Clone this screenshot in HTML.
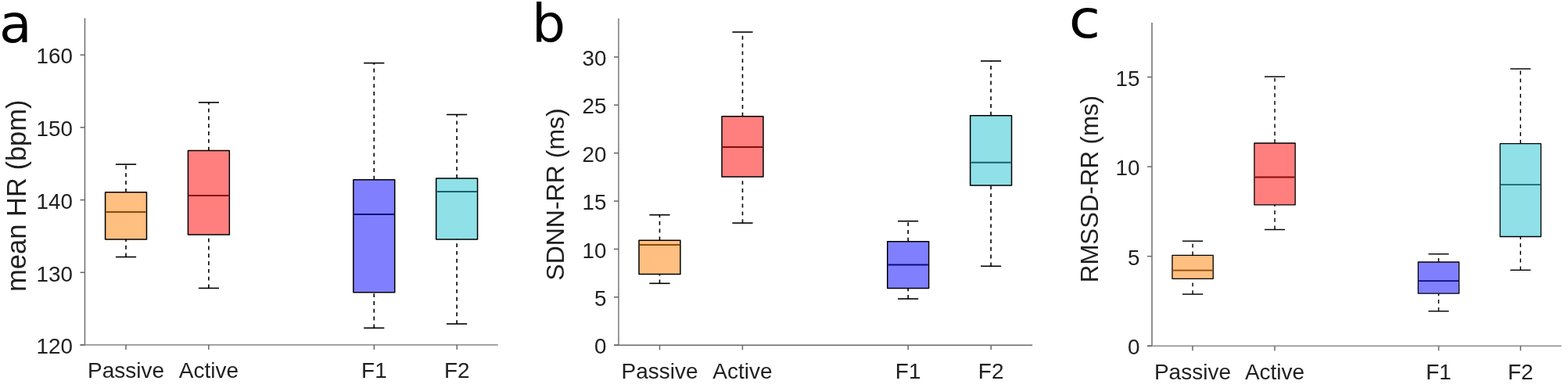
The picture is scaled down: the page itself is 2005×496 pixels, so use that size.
<!DOCTYPE html>
<html><head><meta charset="utf-8"><title>Box plots</title>
<style>
html,body{margin:0;padding:0;background:#fff;}
body{width:2005px;height:496px;overflow:hidden;}
svg{display:block;}
.tl{font-family:"Liberation Sans", Arial, sans-serif;font-size:27.8px;fill:#1f1f1f;}
.al{font-family:"Liberation Sans", Arial, sans-serif;fill:#1f1f1f;}
.xl{font-size:28px;}
.pl{font-family:"DejaVu Sans", Verdana, sans-serif;font-size:68px;fill:#000;}
</style></head><body>
<svg width="2005" height="496" viewBox="0 0 2005 496">
<rect width="2005" height="496" fill="#fff"/>
<g class="pa">
<line x1="161.05" y1="245.8" x2="161.05" y2="210.1" class="wh"/>
<line x1="161.05" y1="328.5" x2="161.05" y2="305.9" class="wh"/>
<line x1="147.95" y1="210.1" x2="174.15" y2="210.1" class="cap"/>
<line x1="147.95" y1="328.5" x2="174.15" y2="328.5" class="cap"/>
<rect x="134.6" y="245.8" width="52.9" height="60.1" fill="#FEBF80" class="bx"/>
<line x1="135.4" y1="270.9" x2="186.7" y2="270.9" stroke="#8B4A0A" class="md"/>
<line x1="266.9" y1="192.6" x2="266.9" y2="131" class="wh"/>
<line x1="266.9" y1="368.4" x2="266.9" y2="299.9" class="wh"/>
<line x1="253.8" y1="131" x2="280" y2="131" class="cap"/>
<line x1="253.8" y1="368.4" x2="280" y2="368.4" class="cap"/>
<rect x="240.45" y="192.6" width="52.9" height="107.3" fill="#FF7F7F" class="bx"/>
<line x1="241.25" y1="250" x2="292.55" y2="250" stroke="#8A0A0A" class="md"/>
<line x1="478.3" y1="229.7" x2="478.3" y2="80.6" class="wh"/>
<line x1="478.3" y1="419.3" x2="478.3" y2="373.7" class="wh"/>
<line x1="465.2" y1="80.6" x2="491.4" y2="80.6" class="cap"/>
<line x1="465.2" y1="419.3" x2="491.4" y2="419.3" class="cap"/>
<rect x="451.85" y="229.7" width="52.9" height="144" fill="#8080FF" class="bx"/>
<line x1="452.65" y1="273.9" x2="503.95" y2="273.9" stroke="#0A0A80" class="md"/>
<line x1="584.15" y1="227.9" x2="584.15" y2="146.5" class="wh"/>
<line x1="584.15" y1="414.05" x2="584.15" y2="306" class="wh"/>
<line x1="571.05" y1="146.5" x2="597.25" y2="146.5" class="cap"/>
<line x1="571.05" y1="414.05" x2="597.25" y2="414.05" class="cap"/>
<rect x="557.7" y="227.9" width="52.9" height="78.1" fill="#90E0E8" class="bx"/>
<line x1="558.5" y1="245" x2="609.8" y2="245" stroke="#17626C" class="md"/>
<line x1="108.5" y1="23.2" x2="108.5" y2="441" stroke="#686868" stroke-width="1.4"/>
<line x1="102.5" y1="440.9" x2="636.7" y2="440.9" stroke="#979797" stroke-width="1.8"/>
<line x1="102.5" y1="441" x2="108.5" y2="441" class="tk"/>
<text x="93" y="452.2" class="tl" text-anchor="end">120</text>
<line x1="102.5" y1="348.3" x2="108.5" y2="348.3" class="tk"/>
<text x="93" y="359.5" class="tl" text-anchor="end">130</text>
<line x1="102.5" y1="255.6" x2="108.5" y2="255.6" class="tk"/>
<text x="93" y="266.8" class="tl" text-anchor="end">140</text>
<line x1="102.5" y1="162.9" x2="108.5" y2="162.9" class="tk"/>
<text x="93" y="174.1" class="tl" text-anchor="end">150</text>
<line x1="102.5" y1="70.2" x2="108.5" y2="70.2" class="tk"/>
<text x="93" y="81.4" class="tl" text-anchor="end">160</text>
<line x1="161" y1="440.9" x2="161" y2="446.9" class="tk"/>
<text x="161" y="483.4" class="tl xl" text-anchor="middle">Passive</text>
<line x1="266.85" y1="440.9" x2="266.85" y2="446.9" class="tk"/>
<text x="266.85" y="483.4" class="tl xl" text-anchor="middle">Active</text>
<line x1="478.4" y1="440.9" x2="478.4" y2="446.9" class="tk"/>
<text x="478.4" y="483.4" class="tl xl" text-anchor="middle">F1</text>
<line x1="584.3" y1="440.9" x2="584.3" y2="446.9" class="tk"/>
<text x="584.3" y="483.4" class="tl xl" text-anchor="middle">F2</text>
<text x="0" y="0" class="al" font-size="34.5" text-anchor="middle" transform="translate(32.9 250.2) rotate(-90)">mean HR (bpm)</text>
<text x="0" y="0" class="pl" transform="translate(-0.9 54.4) scale(1 1)">a</text>
</g>
<g class="pb">
<line x1="843.5" y1="307.3" x2="843.5" y2="274.7" class="wh"/>
<line x1="843.5" y1="362.3" x2="843.5" y2="350.4" class="wh"/>
<line x1="830.4" y1="274.7" x2="856.6" y2="274.7" class="cap"/>
<line x1="830.4" y1="362.3" x2="856.6" y2="362.3" class="cap"/>
<rect x="817.05" y="307.3" width="52.9" height="43.1" fill="#FEBF80" class="bx"/>
<line x1="817.85" y1="313.1" x2="869.15" y2="313.1" stroke="#8B4A0A" class="md"/>
<line x1="949.5" y1="148.7" x2="949.5" y2="41" class="wh"/>
<line x1="949.5" y1="285.1" x2="949.5" y2="225.9" class="wh"/>
<line x1="936.4" y1="41" x2="962.6" y2="41" class="cap"/>
<line x1="936.4" y1="285.1" x2="962.6" y2="285.1" class="cap"/>
<rect x="923.05" y="148.7" width="52.9" height="77.2" fill="#FF7F7F" class="bx"/>
<line x1="923.85" y1="188" x2="975.15" y2="188" stroke="#8A0A0A" class="md"/>
<line x1="1161.2" y1="308.7" x2="1161.2" y2="282.7" class="wh"/>
<line x1="1161.2" y1="382" x2="1161.2" y2="368.5" class="wh"/>
<line x1="1148.1" y1="282.7" x2="1174.3" y2="282.7" class="cap"/>
<line x1="1148.1" y1="382" x2="1174.3" y2="382" class="cap"/>
<rect x="1134.75" y="308.7" width="52.9" height="59.8" fill="#8080FF" class="bx"/>
<line x1="1135.55" y1="338.5" x2="1186.85" y2="338.5" stroke="#0A0A80" class="md"/>
<line x1="1267.1" y1="147.7" x2="1267.1" y2="78" class="wh"/>
<line x1="1267.1" y1="340.3" x2="1267.1" y2="237.1" class="wh"/>
<line x1="1254" y1="78" x2="1280.2" y2="78" class="cap"/>
<line x1="1254" y1="340.3" x2="1280.2" y2="340.3" class="cap"/>
<rect x="1240.65" y="147.7" width="52.9" height="89.4" fill="#90E0E8" class="bx"/>
<line x1="1241.45" y1="207.7" x2="1292.75" y2="207.7" stroke="#17626C" class="md"/>
<line x1="791" y1="23.4" x2="791" y2="441.3" stroke="#9a9a9a" stroke-width="2.0"/>
<line x1="785.3" y1="441.3" x2="1320.2" y2="441.3" stroke="#6a6a6a" stroke-width="1.5"/>
<line x1="785" y1="441.2" x2="791" y2="441.2" class="tk"/>
<text x="775.5" y="452.4" class="tl" text-anchor="end">0</text>
<line x1="785" y1="379.81" x2="791" y2="379.81" class="tk"/>
<text x="775.5" y="391.01" class="tl" text-anchor="end">5</text>
<line x1="785" y1="318.43" x2="791" y2="318.43" class="tk"/>
<text x="775.5" y="329.63" class="tl" text-anchor="end">10</text>
<line x1="785" y1="257.04" x2="791" y2="257.04" class="tk"/>
<text x="775.5" y="268.24" class="tl" text-anchor="end">15</text>
<line x1="785" y1="195.66" x2="791" y2="195.66" class="tk"/>
<text x="775.5" y="206.86" class="tl" text-anchor="end">20</text>
<line x1="785" y1="134.28" x2="791" y2="134.28" class="tk"/>
<text x="775.5" y="145.48" class="tl" text-anchor="end">25</text>
<line x1="785" y1="72.89" x2="791" y2="72.89" class="tk"/>
<text x="775.5" y="84.09" class="tl" text-anchor="end">30</text>
<line x1="843.5" y1="441.3" x2="843.5" y2="447.3" class="tk"/>
<text x="843.5" y="483.8" class="tl xl" text-anchor="middle">Passive</text>
<line x1="949.45" y1="441.3" x2="949.45" y2="447.3" class="tk"/>
<text x="949.45" y="483.8" class="tl xl" text-anchor="middle">Active</text>
<line x1="1161.2" y1="441.3" x2="1161.2" y2="447.3" class="tk"/>
<text x="1161.2" y="483.8" class="tl xl" text-anchor="middle">F1</text>
<line x1="1267.2" y1="441.3" x2="1267.2" y2="447.3" class="tk"/>
<text x="1267.2" y="483.8" class="tl xl" text-anchor="middle">F2</text>
<text x="0" y="0" class="al" font-size="32" text-anchor="middle" transform="translate(721 248.5) rotate(-90)">SDNN-RR (ms)</text>
<text x="0" y="0" class="pl" transform="translate(680 53.6) scale(1 1)">b</text>
</g>
<g class="pc">
<line x1="1525.1" y1="326.4" x2="1525.1" y2="308.2" class="wh"/>
<line x1="1525.1" y1="376.1" x2="1525.1" y2="356.3" class="wh"/>
<line x1="1512" y1="308.2" x2="1538.2" y2="308.2" class="cap"/>
<line x1="1512" y1="376.1" x2="1538.2" y2="376.1" class="cap"/>
<rect x="1498.95" y="326.4" width="52.3" height="29.9" fill="#FEBF80" class="bx"/>
<line x1="1499.75" y1="345.7" x2="1550.45" y2="345.7" stroke="#8B4A0A" class="md"/>
<line x1="1630.05" y1="183" x2="1630.05" y2="98" class="wh"/>
<line x1="1630.05" y1="293.5" x2="1630.05" y2="261.9" class="wh"/>
<line x1="1616.95" y1="98" x2="1643.15" y2="98" class="cap"/>
<line x1="1616.95" y1="293.5" x2="1643.15" y2="293.5" class="cap"/>
<rect x="1603.9" y="183" width="52.3" height="78.9" fill="#FF7F7F" class="bx"/>
<line x1="1604.7" y1="226.5" x2="1655.4" y2="226.5" stroke="#8A0A0A" class="md"/>
<line x1="1839.55" y1="335" x2="1839.55" y2="324.7" class="wh"/>
<line x1="1839.55" y1="397.8" x2="1839.55" y2="375.1" class="wh"/>
<line x1="1826.45" y1="324.7" x2="1852.65" y2="324.7" class="cap"/>
<line x1="1826.45" y1="397.8" x2="1852.65" y2="397.8" class="cap"/>
<rect x="1813.4" y="335" width="52.3" height="40.1" fill="#8080FF" class="bx"/>
<line x1="1814.2" y1="359.2" x2="1864.9" y2="359.2" stroke="#0A0A80" class="md"/>
<line x1="1944.3" y1="183.7" x2="1944.3" y2="88" class="wh"/>
<line x1="1944.3" y1="345.3" x2="1944.3" y2="302.5" class="wh"/>
<line x1="1931.2" y1="88" x2="1957.4" y2="88" class="cap"/>
<line x1="1931.2" y1="345.3" x2="1957.4" y2="345.3" class="cap"/>
<rect x="1918.15" y="183.7" width="52.3" height="118.8" fill="#90E0E8" class="bx"/>
<line x1="1918.95" y1="236.2" x2="1969.65" y2="236.2" stroke="#17626C" class="md"/>
<line x1="1473" y1="29" x2="1473" y2="442.2" stroke="#8c8c8c" stroke-width="1.9"/>
<line x1="1467.4" y1="442.2" x2="1996.6" y2="442.2" stroke="#a0a0a0" stroke-width="1.9"/>
<line x1="1467" y1="442.2" x2="1473" y2="442.2" class="tk"/>
<text x="1457.5" y="453.4" class="tl" text-anchor="end">0</text>
<line x1="1467" y1="327.63" x2="1473" y2="327.63" class="tk"/>
<text x="1457.5" y="338.83" class="tl" text-anchor="end">5</text>
<line x1="1467" y1="213.07" x2="1473" y2="213.07" class="tk"/>
<text x="1457.5" y="224.27" class="tl" text-anchor="end">10</text>
<line x1="1467" y1="98.5" x2="1473" y2="98.5" class="tk"/>
<text x="1457.5" y="109.7" class="tl" text-anchor="end">15</text>
<line x1="1524.95" y1="442.2" x2="1524.95" y2="448.2" class="tk"/>
<text x="1524.95" y="484.7" class="tl xl" text-anchor="middle">Passive</text>
<line x1="1630" y1="442.2" x2="1630" y2="448.2" class="tk"/>
<text x="1630" y="484.7" class="tl xl" text-anchor="middle">Active</text>
<line x1="1839.6" y1="442.2" x2="1839.6" y2="448.2" class="tk"/>
<text x="1839.6" y="484.7" class="tl xl" text-anchor="middle">F1</text>
<line x1="1944.35" y1="442.2" x2="1944.35" y2="448.2" class="tk"/>
<text x="1944.35" y="484.7" class="tl xl" text-anchor="middle">F2</text>
<text x="0" y="0" class="al" font-size="31.2" text-anchor="middle" transform="translate(1404 241.6) rotate(-90)">RMSSD-RR (ms)</text>
<text x="0" y="0" class="pl" transform="translate(1366.8 48.2) scale(1.08 1)">c</text>
</g>
<style>
.wh{stroke:#000;stroke-width:1.6;stroke-dasharray:4.9 4.9;}
.cap{stroke:#000;stroke-width:1.6;}
.bx{stroke:#000;stroke-width:1.5;stroke-linejoin:round;}
.md{stroke-width:2;}
.pc .wh,.pc .cap{stroke-width:1.45;}
.pc .bx{stroke-width:1.3;}
.pc .md{stroke-width:1.8;}
.ay{stroke:#6a6a6a;stroke-width:1.5;}
.ax{stroke:#959595;stroke-width:1.8;}
.tk{stroke:#666;stroke-width:1.5;}
</style>
</svg>
</body></html>
